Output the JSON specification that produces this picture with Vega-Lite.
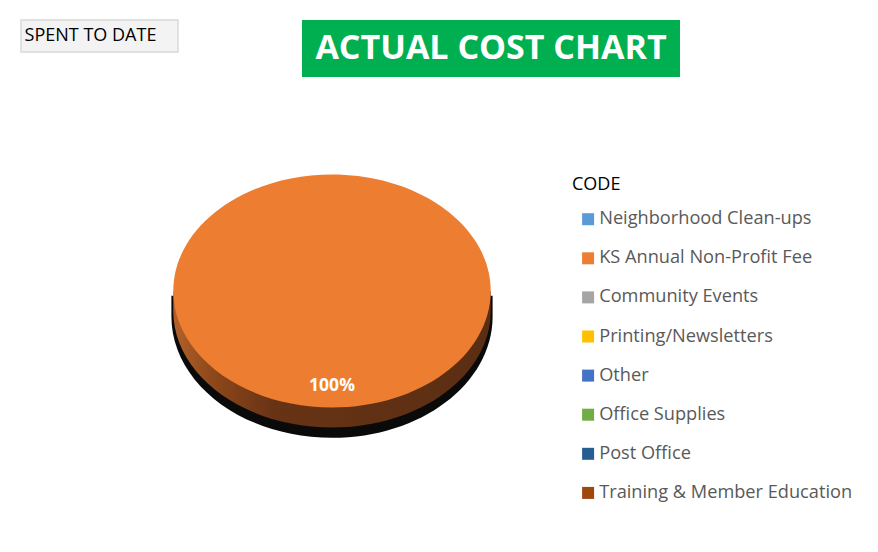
{
  "$schema": "https://vega.github.io/schema/vega-lite/v6.json",
  "background": "white",
  "padding": {"left": 20, "top": 19, "right": 0, "bottom": 0},
  "config": {"view": {"stroke": null}, "font": "Open Sans"},
  "spacing": 12,
  "vconcat": [
    {
      "spacing": 123,
      "hconcat": [
        {
          "width": 157,
          "height": 32,
          "view": {"fill": "#F3F3F3", "stroke": "#D9D9D9", "strokeWidth": 1.5},
          "data": {"values": [{"label": "SPENT TO DATE"}]},
          "mark": {"type": "text", "font": "Open Sans", "fontSize": 18, "color": "#000000", "dx": -9},
          "encoding": {"text": {"field": "label", "type": "nominal"}}
        },
        {
          "width": 378,
          "height": 57,
          "view": {"fill": "#00B050", "stroke": null},
          "data": {"values": [{"label": "ACTUAL COST CHART"}]},
          "mark": {"type": "text", "font": "Open Sans", "fontSize": 34, "fontWeight": "bold", "color": "#FFFFFF"},
          "encoding": {"text": {"field": "label", "type": "nominal"}}
        }
      ]
    },
    {
      "width": 622,
      "height": 404,
      "data": {
        "values": [
          {"code": "Neighborhood Clean-ups", "share": 0},
          {"code": "KS Annual Non-Profit Fee", "share": 1},
          {"code": "Community Events", "share": 0},
          {"code": "Printing/Newsletters", "share": 0},
          {"code": "Other", "share": 0},
          {"code": "Office Supplies", "share": 0},
          {"code": "Post Office", "share": 0},
          {"code": "Training & Member Education", "share": 0}
        ]
      },
      "layer": [
        {
          "transform": [{"filter": "datum.share > 0"}],
          "mark": {
            "type": "point",
            "filled": true,
            "opacity": 1,
            "strokeWidth": 0,
            "size": 100743,
            "fill": "#0A0A0A",
            "shape": "M-1.012,0.03L-1.012,0.16C-1.012,0.5825,-0.559,0.925,0,0.925C0.559,0.925,1.012,0.5825,1.012,0.16L1.012,0.03Z"
          },
          "encoding": {}
        },
        {
          "transform": [{"filter": "datum.share > 0"}],
          "mark": {
            "type": "point",
            "filled": true,
            "opacity": 1,
            "strokeWidth": 0,
            "size": 100743,
            "fill": {
              "gradient": "linear",
              "x1": 0, "y1": 0, "x2": 1, "y2": 0,
              "stops": [
                {"offset": 0, "color": "#B3612A"},
                {"offset": 0.12, "color": "#8E481B"},
                {"offset": 0.32, "color": "#673315"},
                {"offset": 1, "color": "#5A2E13"}
              ]
            },
            "shape": "M-1,0L-1,0.126C-1,0.5314,-0.5523,0.86,0,0.86C0.5523,0.86,1,0.5314,1,0.126L1,0Z"
          },
          "encoding": {}
        },
        {
          "transform": [{"filter": "datum.share > 0"}],
          "mark": {
            "type": "point",
            "filled": true,
            "opacity": 1,
            "strokeWidth": 0,
            "size": 100743,
            "shape": "M-1,0C-1,-0.4054,-0.5523,-0.734,0,-0.734C0.5523,-0.734,1,-0.4054,1,0C1,0.4054,0.5523,0.734,0,0.734C-0.5523,0.734,-1,0.4054,-1,0Z"
          },
          "encoding": {
            "color": {
              "field": "code",
              "type": "nominal",
              "scale": {
                "domain": ["Neighborhood Clean-ups", "KS Annual Non-Profit Fee", "Community Events", "Printing/Newsletters", "Other", "Office Supplies", "Post Office", "Training & Member Education"],
                "range": ["#5B9BD5", "#ED7D31", "#A5A5A5", "#FFC000", "#4472C4", "#70AD47", "#255E91", "#9E480E"]
              },
              "legend": {
                "title": "CODE",
                "orient": "none",
                "legendX": 551,
                "legendY": 155.5,
                "direction": "vertical",
                "padding": 0,
                "titleFont": "Open Sans",
                "titleFontSize": 18,
                "titleFontWeight": "normal",
                "titleColor": "#000000",
                "titlePadding": 16.6,
                "labelFont": "Open Sans",
                "labelFontSize": 18.2,
                "labelColor": "#595959",
                "labelLimit": 400,
                "labelOffset": 2,
                "symbolType": "square",
                "symbolSize": 144,
                "symbolOffset": 7,
                "symbolStrokeWidth": 0,
                "symbolOpacity": 1,
                "rowPadding": 20.1
              }
            }
          }
        },
        {
          "transform": [{"filter": "datum.share > 0"}],
          "mark": {"type": "text", "radius": 94.5, "font": "Open Sans", "fontSize": 17.5, "fontWeight": "bold", "color": "#FFFFFF", "baseline": "middle"},
          "encoding": {
            "theta": {"field": "share", "type": "quantitative", "stack": true},
            "text": {"field": "share", "type": "quantitative", "format": ".0%"}
          }
        }
      ]
    }
  ]
}
